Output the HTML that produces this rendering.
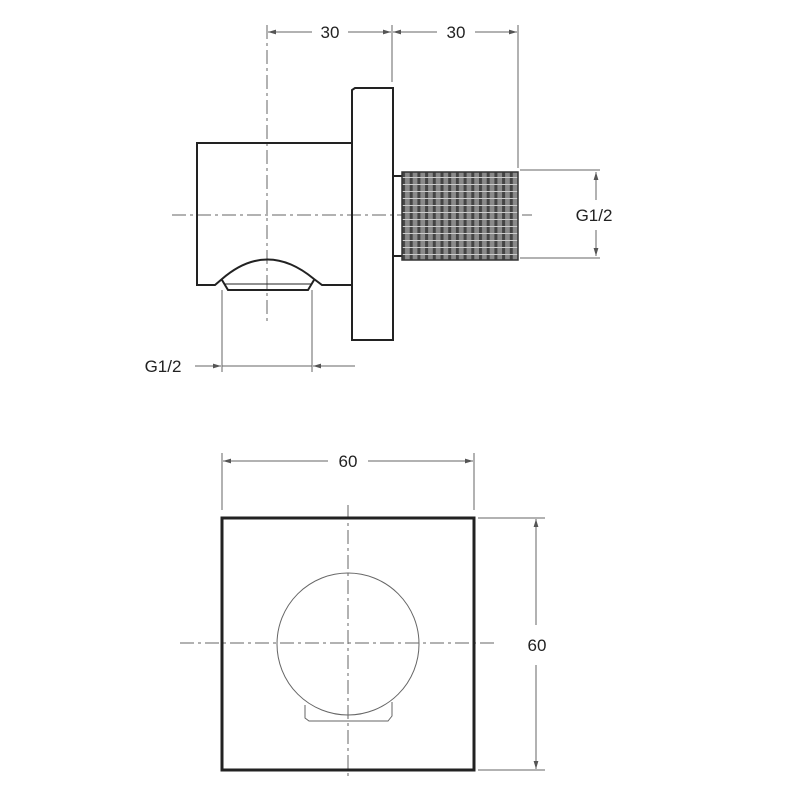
<!DOCTYPE html>
<html><head><style>body{margin:0;background:#fff}svg{display:block}text{font-family:"Liberation Sans",sans-serif;font-size:17px;fill:#222}</style></head><body>
<svg width="800" height="800" viewBox="0 0 800 800" xmlns="http://www.w3.org/2000/svg">
<defs>
<pattern id="th" width="7.7" height="7" patternUnits="userSpaceOnUse" x="402" y="172">
<rect width="7.7" height="7" fill="#8a8a8a"/>
<rect x="0" width="3" height="7" fill="#444"/>
<rect y="5" width="7.7" height="1" fill="#ccc"/>
</pattern>
<marker id="a" viewBox="0 0 10 6" refX="10" refY="3" markerWidth="8" markerHeight="5" orient="auto-start-reverse"><path d="M0,0L10,3L0,6z" fill="#555"/></marker>
</defs>
<g stroke="#666" stroke-width="1" fill="none">
<line x1="267" y1="25" x2="267" y2="322" stroke-dasharray="14,4,3,4"/>
<line x1="392" y1="25" x2="392" y2="82"/>
<line x1="518" y1="25" x2="518" y2="168"/>
<line x1="268" y1="32" x2="312" y2="32" marker-start="url(#a)"/>
<line x1="348" y1="32" x2="391" y2="32" marker-end="url(#a)"/>
<line x1="393" y1="32" x2="437" y2="32" marker-start="url(#a)"/>
<line x1="475" y1="32" x2="517" y2="32" marker-end="url(#a)"/>
<line x1="172" y1="215" x2="532" y2="215" stroke-dasharray="14,4,3,4"/>
<line x1="520" y1="170" x2="600" y2="170"/>
<line x1="520" y1="258" x2="600" y2="258"/>
<line x1="596" y1="172" x2="596" y2="200" marker-start="url(#a)"/>
<line x1="596" y1="230" x2="596" y2="256" marker-end="url(#a)"/>
<line x1="222" y1="290" x2="222" y2="372"/>
<line x1="312" y1="290" x2="312" y2="372"/>
<line x1="195" y1="366" x2="221" y2="366" marker-end="url(#a)"/>
<line x1="222" y1="366" x2="312" y2="366"/>
<line x1="355" y1="366" x2="313" y2="366" marker-end="url(#a)"/>
<line x1="222" y1="453" x2="222" y2="510"/>
<line x1="474" y1="453" x2="474" y2="510"/>
<line x1="223" y1="461" x2="328" y2="461" marker-start="url(#a)"/>
<line x1="368" y1="461" x2="473" y2="461" marker-end="url(#a)"/>
<line x1="478" y1="518" x2="545" y2="518"/>
<line x1="478" y1="770" x2="545" y2="770"/>
<line x1="536" y1="519" x2="536" y2="625" marker-start="url(#a)"/>
<line x1="536" y1="665" x2="536" y2="769" marker-end="url(#a)"/>
<line x1="180" y1="643" x2="495" y2="643" stroke-dasharray="14,4,3,4"/>
<line x1="348" y1="505" x2="348" y2="780" stroke-dasharray="14,4,3,4"/>
<circle cx="348" cy="644" r="71"/>
<path d="M305,705 L305,718 L309,721 L388,721 L392,716 L392,702"/>
</g>
<g stroke="#222" stroke-width="2" fill="none">
<path d="M352,143 L197,143 L197,285 L215,285 L222,279 Q267,240 314,279 L322,285 L352,285"/>
<path d="M222,280 L228,290 L308,290 L314,280"/>
<line x1="224" y1="284" x2="312" y2="284" stroke-width="1"/>
<path d="M352,340 L352,90 L355,88 L393,88 L393,340 L355,340 Z"/>
<path d="M393,176 L402,176 M393,256 L402,256"/>
</g>
<rect x="402" y="172" width="116" height="88" fill="url(#th)" stroke="#333" stroke-width="1.5"/>
<rect x="222" y="518" width="252" height="252" fill="none" stroke="#222" stroke-width="3"/>
<text x="330" y="38" text-anchor="middle">30</text>
<text x="456" y="38" text-anchor="middle">30</text>
<text x="594" y="221" text-anchor="middle">G1/2</text>
<text x="163" y="372" text-anchor="middle">G1/2</text>
<text x="348" y="467" text-anchor="middle">60</text>
<text x="537" y="651" text-anchor="middle">60</text>
</svg>
</body></html>
